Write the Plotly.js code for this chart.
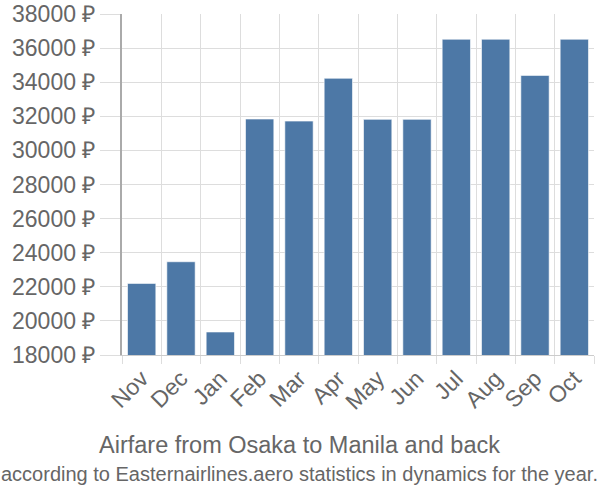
<!DOCTYPE html>
<html><head><meta charset="utf-8">
<script src="https://cdn.plot.ly/plotly-3.0.1.min.js"></script>
<style>body{margin:0}#c{width:600px;height:500px}</style>
</head><body><div id="c"></div>
<script>
const months = ["Nov","Dec","Jan","Feb","Mar","Apr","May","Jun","Jul","Aug","Sep","Oct"];
const prices = [22200,23470,19350,31840,31720,34230,31820,31820,36520,36520,34400,36520];
const titleText = "Airfare from Osaka to Manila and back";
const subtitleText = "according to Easternairlines.aero statistics in dynamics for the year.";

const font = "'Liberation Sans', Arial, sans-serif";
Plotly.newPlot("c", [{
  type: "bar", x: months, y: prices,
  marker: {color: "#4d78a6", line: {color: "rgba(255,255,255,0.6)", width: 1}},
  hoverinfo: "none"
}], {
  width: 600, height: 500,
  margin: {l: 122, r: 6, t: 14, b: 145},
  paper_bgcolor: "#fff", plot_bgcolor: "#fff",
  bargap: 0.28,
  font: {family: font, color: "#666"},
  xaxis: {
    type: "category", tickangle: -45, tickson: "boundaries",
    ticks: "outside", ticklen: 8, tickcolor: "#ddd",
    showgrid: true, gridcolor: "#ddd", gridwidth: 1,
    showline: true, linecolor: "#ccc", linewidth: 1,
    tickfont: {size: 23, color: "#666"}
  },
  yaxis: {
    range: [18000, 38000], dtick: 2000, tick0: 18000,
    ticksuffix: " ₽", tickformat: "d",
    ticks: "outside", ticklen: 20, tickcolor: "#ddd",
    showgrid: true, gridcolor: "#ddd", gridwidth: 1,
    showline: true, linecolor: "#aaa", linewidth: 2,
    zeroline: false,
    tickfont: {size: 23, color: "#666"}
  },
  annotations: [
    {text: titleText, xref: "paper", yref: "paper", x: 0.3771, xanchor: "center",
     y: -0.264, yanchor: "middle", showarrow: false,
     font: {size: 23.5, color: "#666", family: font}},
    {text: subtitleText, xref: "paper", yref: "paper", x: 0.3771, xanchor: "center",
     y: -0.349, yanchor: "middle", showarrow: false,
     font: {size: 20, color: "#666", family: font}}
  ],
  showlegend: false
}, {staticPlot: true});
</script></body></html>
